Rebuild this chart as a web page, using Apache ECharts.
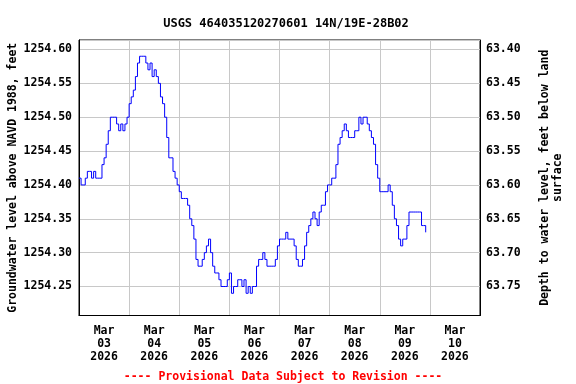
<!DOCTYPE html>
<html><head><meta charset="utf-8">
<script src="https://cdn.jsdelivr.net/npm/echarts@6/dist/echarts.min.js"></script>
<style>html,body{margin:0;padding:0;background:#fff}#c{width:576px;height:384px}</style>
</head><body><div id="c"></div>
<script>
const chartTitle = 'USGS 464035120270601 14N/19E-28B02';
const footNote = '---- Provisional Data Subject to Revision ----';
const dayLabels = ['Mar\n03\n2026','Mar\n04\n2026','Mar\n05\n2026','Mar\n06\n2026','Mar\n07\n2026','Mar\n08\n2026','Mar\n09\n2026','Mar\n10\n2026'];
// hourly readings starting 2026-03-03 00:00 (feet above NAVD 1988)
const levels = [
 1254.41,1254.40,1254.40,1254.41,1254.42,1254.42,1254.41,1254.42,1254.41,1254.41,
 1254.41,1254.43,1254.44,1254.46,1254.48,1254.50,1254.50,1254.50,1254.49,1254.48,
 1254.49,1254.48,1254.49,1254.50,1254.52,1254.53,1254.54,1254.56,1254.58,1254.59,
 1254.59,1254.59,1254.58,1254.57,1254.58,1254.56,1254.57,1254.56,1254.55,1254.53,
 1254.52,1254.50,1254.47,1254.44,1254.44,1254.42,1254.41,1254.40,1254.39,1254.38,
 1254.38,1254.38,1254.37,1254.35,1254.34,1254.32,1254.29,1254.28,1254.28,1254.29,
 1254.30,1254.31,1254.32,1254.30,1254.28,1254.27,1254.27,1254.26,1254.25,1254.25,
 1254.25,1254.26,1254.27,1254.24,1254.25,1254.25,1254.26,1254.26,1254.25,1254.26,
 1254.24,1254.25,1254.24,1254.25,1254.25,1254.28,1254.29,1254.29,1254.30,1254.29,
 1254.28,1254.28,1254.28,1254.28,1254.29,1254.31,1254.32,1254.32,1254.32,1254.33,
 1254.32,1254.32,1254.32,1254.31,1254.29,1254.28,1254.28,1254.29,1254.31,1254.33,
 1254.34,1254.35,1254.36,1254.35,1254.34,1254.36,1254.37,1254.37,1254.39,1254.40,
 1254.40,1254.41,1254.41,1254.43,1254.46,1254.47,1254.48,1254.49,1254.48,1254.47,
 1254.47,1254.47,1254.48,1254.48,1254.50,1254.49,1254.50,1254.50,1254.49,1254.48,
 1254.47,1254.46,1254.43,1254.41,1254.39,1254.39,1254.39,1254.39,1254.40,1254.39,
 1254.37,1254.35,1254.34,1254.32,1254.31,1254.32,1254.32,1254.34,1254.36,1254.36,
 1254.36,1254.36,1254.36,1254.36,1254.34,1254.34,1254.33
];
const landSurface = 1318.00;
const yMin = 1254.2072, yMax = 1254.6140;
const hoursSpan = 192;

const FONT = 'DejaVu Sans Mono';
const seriesData = levels.map((v, i) => [i, v]);
function tickFmt(v) {
  const k = Math.round(v / 0.05);
  if (Math.abs(v - k * 0.05) > 0.001) return '';
  return v.toFixed(2);
}
const chart = echarts.init(document.getElementById('c'), null, {renderer: 'canvas'});
chart.setOption({
  animation: false,
  backgroundColor: '#fff',
  title: [
    {text: chartTitle, left: 281, top: 13, textAlign: 'center',
     textStyle: {fontFamily: FONT, fontWeight: 'bold', fontSize: 12, color: '#000'}},
    {text: footNote, left: 278, top: 366, textAlign: 'center',
     textStyle: {fontFamily: FONT, fontWeight: 'bold', fontSize: 11.5, color: '#ff0000'}}
  ],
  grid: {left: 79, right: 96, top: 40, bottom: 68.5, show: true, borderColor: '#000', borderWidth: 1,
         containLabel: false, outerBoundsMode: 'none'},
  xAxis: [
    {type: 'value', min: 0, max: hoursSpan, show: false},
    {type: 'category', data: dayLabels, boundaryGap: true, position: 'bottom',
     axisLine: {show: true, lineStyle: {color: '#000'}},
     axisTick: {show: false},
     splitLine: {show: true, interval: 0, lineStyle: {color: '#c8c8c8', width: 1}},
     axisLabel: {interval: 0, margin: 9, fontFamily: FONT, fontWeight: 'bold', fontSize: 11.5, color: '#000', lineHeight: 13}}
  ],
  yAxis: [
    {type: 'value', min: yMin, max: yMax, splitNumber: 8, position: 'left',
     name: 'Groundwater level above NAVD 1988, feet', nameLocation: 'middle', nameGap: 60, nameMoveOverlap: false,
     nameTextStyle: {fontFamily: FONT, fontWeight: 'bold', fontSize: 11.5, color: '#000'},
     axisLine: {show: true, lineStyle: {color: '#000'}},
     axisTick: {show: false},
     splitLine: {show: true, lineStyle: {color: '#c8c8c8', width: 1}},
     axisLabel: {showMinLabel: false, showMaxLabel: false, margin: 7, formatter: tickFmt,
       fontFamily: FONT, fontWeight: 'bold', fontSize: 11.5, color: '#000'}},
    {type: 'value', inverse: true, min: landSurface - yMax, max: landSurface - yMin, splitNumber: 8, position: 'right',
     name: 'Depth to water level, feet below land\nsurface', nameLocation: 'middle', nameGap: 59, nameMoveOverlap: false,
     nameTextStyle: {fontFamily: FONT, fontWeight: 'bold', fontSize: 11.5, color: '#000', lineHeight: 13, align: 'center'},
     axisLine: {show: true, lineStyle: {color: '#000'}},
     axisTick: {show: false},
     splitLine: {show: false},
     axisLabel: {showMinLabel: false, showMaxLabel: false, margin: 6, formatter: tickFmt,
       fontFamily: FONT, fontWeight: 'bold', fontSize: 11.5, color: '#000'}}
  ],
  series: [{
    type: 'line', xAxisIndex: 0, yAxisIndex: 0, data: seriesData, step: 'end',
    showSymbol: false, symbol: 'none',
    lineStyle: {color: '#0000ff', width: 1}
  }]
});
</script>
</body></html>
